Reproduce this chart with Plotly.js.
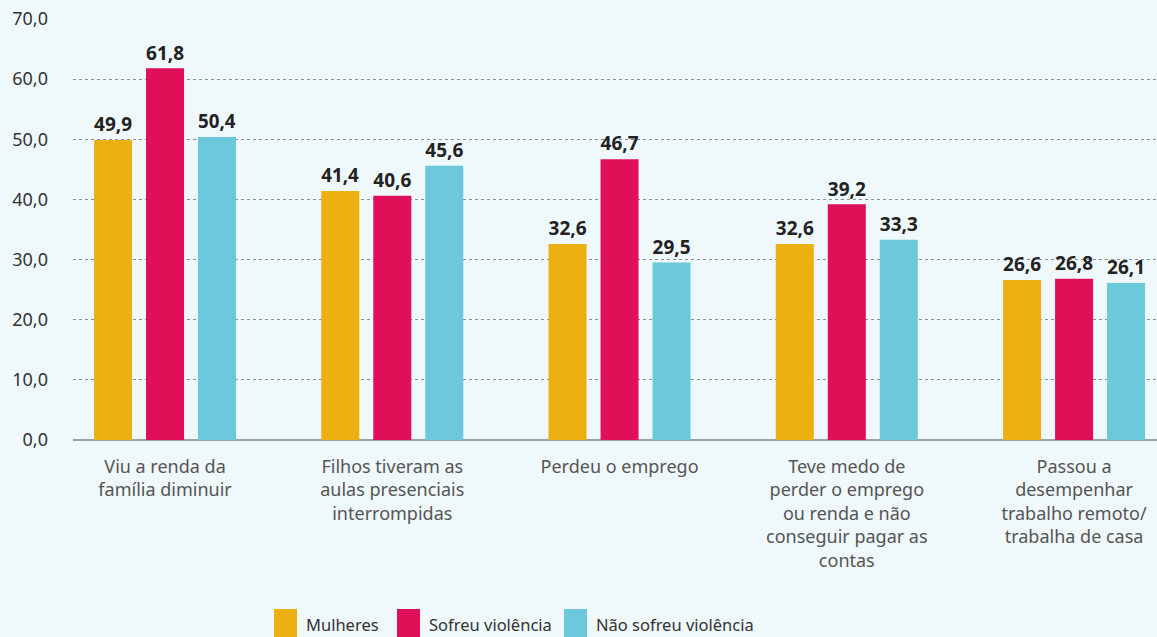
<!DOCTYPE html>
<html><head><meta charset="utf-8">
<script src="https://cdn.plot.ly/plotly-3.0.1.min.js"></script>
<style>html,body{margin:0;padding:0;background:#eff8fb;}</style>
</head><body>
<div id="chart" style="width:1157px;height:637px;"></div>
<script>
const categories = [
  "Viu a renda da<br>família diminuir",
  "Filhos tiveram as<br>aulas presenciais<br>interrompidas",
  "Perdeu o emprego",
  "Teve medo de<br>perder o emprego<br>ou renda e não<br>conseguir pagar as<br>contas",
  "Passou a<br>desempenhar<br>trabalho remoto/<br>trabalha de casa"
];
const seriesNames = ["Mulheres", "Sofreu violência", "Não sofreu violência"];
const mulheres = [49.9, 41.4, 32.6, 32.6, 26.6];
const sofreu = [61.8, 40.6, 46.7, 39.2, 26.8];
const naoSofreu = [50.4, 45.6, 29.5, 33.3, 26.1];
const colors = ["#ecb013", "#e01058", "#6cc9dc"];
const yTicks = [0, 10, 20, 30, 40, 50, 60, 70];

const seriesValues = [mulheres, sofreu, naoSofreu];
const traces = seriesValues.map((vals, i) => ({
  type: "bar",
  x: categories,
  y: vals,
  name: seriesNames[i],
  marker: {color: colors[i]},
  texttemplate: "%{y:.1f}",
  textposition: "outside",
  cliponaxis: false,
  textfont: {family: "Noto Sans, sans-serif", size: 20, color: "#222", weight: "bold"},
  showlegend: false,
  hoverinfo: "skip"
}));

// custom legend (large squares) in paper coordinates
const W = 1084, H = 421;
const legX = [274, 397, 564];
const shapes = [], annotations = [];
seriesNames.forEach((n, i) => {
  shapes.push({type: "rect", xref: "paper", yref: "paper",
    x0: (legX[i] - 73) / W, x1: (legX[i] + 23 - 73) / W,
    y0: (440 - 609) / H, y1: (440 - 645) / H,
    fillcolor: colors[i], line: {width: 0}});
  annotations.push({xref: "paper", yref: "paper", showarrow: false,
    x: (legX[i] + 30 - 73) / W, y: (440 - 624) / H, xanchor: "left", yanchor: "middle",
    text: n, font: {family: "Noto Sans, sans-serif", size: 16.5, color: "#333"}});
});

const layout = {
  width: 1157, height: 637,
  margin: {l: 73, r: 0, t: 19, b: 197},
  paper_bgcolor: "#eff8fb", plot_bgcolor: "#eff8fb",
  separators: ",.",
  barmode: "group",
  bargap: 0.3135,
  bargroupgap: 0.269,
  font: {family: "Noto Sans, sans-serif", size: 17, color: "#333"},
  xaxis: {
    type: "category",
    range: [-0.405, 4.365],
    showgrid: false, showline: false, zeroline: false,
    ticks: "", ticklabelstandoff: 14,
    tickfont: {family: "Noto Sans, sans-serif", size: 18, color: "#555"}
  },
  yaxis: {
    range: [0, 70],
    tickvals: yTicks,
    tickformat: ".1f",
    showgrid: true, gridcolor: "#8a9196", griddash: "dot", gridwidth: 1,
    zeroline: true, zerolinecolor: "#9aa2a6", zerolinewidth: 2,
    showline: false, ticks: "", ticklabelstandoff: 24,
    tickfont: {family: "Noto Sans, sans-serif", size: 18, color: "#333"}
  },
  shapes: shapes,
  annotations: annotations,
  showlegend: false
};

Plotly.newPlot("chart", traces, layout, {displayModeBar: false, staticPlot: true});
</script>
</body></html>
